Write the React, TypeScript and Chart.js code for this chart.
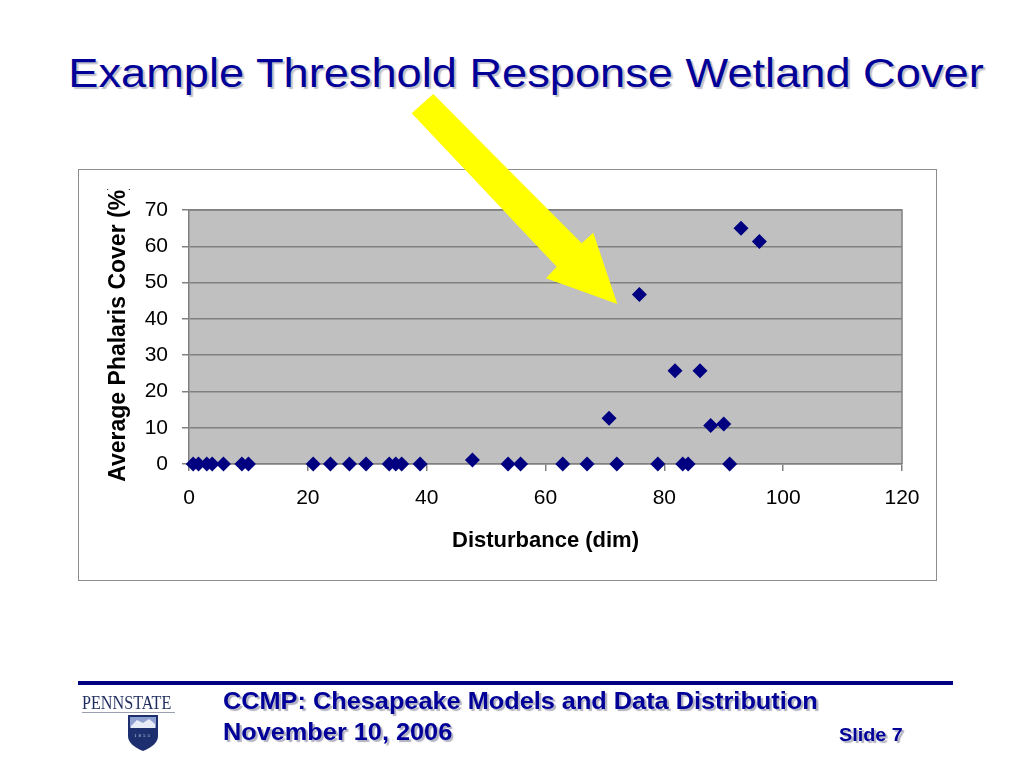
import React, { useEffect, useRef } from "react";
import { Chart, registerables } from "chart.js";

Chart.register(...registerables);

// ---- data ----
const disturbance = [
  0.7, 1.6, 3.0, 3.9, 5.8, 8.9, 10.0, 20.9, 23.8, 27.0, 29.8, 33.7, 34.8, 35.8,
  38.9, 47.7, 53.7, 55.8, 62.9, 67.0, 70.7, 72.0, 75.8, 78.9, 81.8, 83.1, 84.0,
  86.0, 87.8, 90.0, 91.0, 92.9, 96.0,
];
const phalarisCover = [
  0, 0, 0, 0, 0, 0, 0, 0, 0, 0, 0, 0, 0, 0,
  0, 1.1, 0, 0, 0, 0, 12.6, 0, 46.7, 0, 25.7, 0, 0,
  25.7, 10.6, 11.0, 0, 65.0, 61.3,
];
const xTicks = [0, 20, 40, 60, 80, 100, 120];
const yTicks = [0, 10, 20, 30, 40, 50, 60, 70];

const slideTitle = "Example Threshold Response Wetland Cover";
const xTitle = "Disturbance (dim)";
const yTitle = "Average Phalaris Cover (%)";
const footerLine1 = "CCMP: Chesapeake Models and Data Distribution";
const footerLine2 = "November 10, 2006";
const slideLabel = "Slide 7";
const logoText = "PENNSTATE";

const SANS = "'Liberation Sans', Arial, Helvetica, sans-serif";
const SERIF = "'Liberation Serif', 'Times New Roman', serif";

const plotFrame = {
  id: "plotFrame",
  beforeDraw(chart: any) {
    const { ctx, chartArea } = chart;
    const { left, top, right, bottom } = chartArea;
    ctx.save();
    ctx.fillStyle = "#c0c0c0";
    ctx.fillRect(left, top, right - left, bottom - top);
    ctx.restore();
  },
  beforeDatasetsDraw(chart: any) {
    const { ctx, chartArea } = chart;
    const { left, top, right, bottom } = chartArea;
    ctx.save();
    ctx.strokeStyle = "#808080";
    ctx.lineWidth = 1.5;
    ctx.beginPath();
    ctx.moveTo(left, top);
    ctx.lineTo(right, top);
    ctx.lineTo(right, bottom);
    ctx.stroke();
    ctx.restore();
  },
  afterDraw(chart: any) {
    // rotated y-axis title, clipped at the top like the original
    const { ctx, chartArea, width, height } = chart;
    const cy = (chartArea.top + chartArea.bottom) / 2 - 5;
    ctx.save();
    ctx.beginPath();
    ctx.rect(0, 19, width, height - 19);
    ctx.clip();
    ctx.translate(46, cy);
    ctx.rotate(-Math.PI / 2);
    ctx.font = `bold 23px ${SANS}`;
    ctx.fillStyle = "#000000";
    ctx.textAlign = "center";
    ctx.textBaseline = "alphabetic";
    ctx.fillText(yTitle, 0, 0);
    ctx.restore();
  },
};

function ScatterChart() {
  const ref = useRef<HTMLCanvasElement | null>(null);
  useEffect(() => {
    if (!ref.current) return;
    const points = disturbance.map((x, i) => ({ x, y: phalarisCover[i] }));
    const chart = new Chart(ref.current, {
      type: "scatter",
      data: {
        datasets: [
          {
            label: "Phalaris",
            data: points,
            pointStyle: "rectRot",
            pointRadius: 7.5,
            pointHoverRadius: 7.5,
            backgroundColor: "#000080",
            borderColor: "#000080",
            borderWidth: 0,
            clip: false as any,
          },
        ],
      },
      options: {
        animation: false,
        responsive: false,
        events: [],
        layout: { padding: { left: 20, right: 34, top: 40, bottom: 21.8 } },
        plugins: {
          legend: { display: false },
          tooltip: { enabled: false },
        },
        scales: {
          x: {
            type: "linear",
            min: 0,
            max: 120,
            afterBuildTicks: (s: any) => {
              s.ticks = xTicks.map((v) => ({ value: v }));
            },
            afterFit: (s: any) => {
              s.height = 94.2;
            },
            ticks: {
              color: "#000000",
              font: { family: SANS, size: 21 },
              padding: 15,
              maxRotation: 0,
            },
            grid: {
              drawOnChartArea: false,
              drawTicks: true,
              tickLength: 7,
              color: "#808080",
              lineWidth: 1.5,
            },
            border: { color: "#808080", width: 1.5 },
            title: {
              display: true,
              text: xTitle,
              color: "#000000",
              font: { family: SANS, size: 22, weight: "bold" },
              padding: { top: 4, bottom: 4 },
            },
          },
          y: {
            type: "linear",
            min: 0,
            max: 70,
            afterBuildTicks: (s: any) => {
              s.ticks = yTicks.map((v) => ({ value: v }));
            },
            afterFit: (s: any) => {
              s.width = 90;
            },
            ticks: {
              color: "#000000",
              font: { family: SANS, size: 21 },
              padding: 14,
            },
            grid: {
              color: "#808080",
              lineWidth: 1.5,
              drawTicks: true,
              tickLength: 7,
            },
            border: { color: "#808080", width: 1.5 },
          },
        },
      },
      plugins: [plotFrame],
    });
    return () => chart.destroy();
  }, []);
  return (
    <canvas
      ref={ref}
      width={857}
      height={410}
      style={{ position: "absolute", left: 79, top: 170, width: 857, height: 410 }}
    />
  );
}

export default function App() {
  return (
    <div
      style={{
        position: "absolute",
        left: 0,
        top: 0,
        width: 1024,
        height: 768,
        background: "#ffffff",
        overflow: "hidden",
        fontFamily: SANS,
      }}
    >
      {/* Slide title */}
      <div
        style={{
          position: "absolute",
          left: 0,
          top: 53,
          width: 1052,
          textAlign: "center",
          fontSize: 40,
          lineHeight: "40px",
          color: "#000099",
          whiteSpace: "nowrap",
          transform: "scaleX(1.13)",
          transformOrigin: "526px 0",
          textShadow: "2px 2px 1px #c0c0cc",
        }}
      >
        {slideTitle}
      </div>

      {/* Chart box */}
      <div
        style={{
          position: "absolute",
          left: 78,
          top: 169,
          width: 859,
          height: 412,
          boxSizing: "border-box",
          border: "1px solid #8c8c8c",
        }}
      />
      <ScatterChart />

      {/* Yellow arrow */}
      <svg
        width={1024}
        height={768}
        style={{ position: "absolute", left: 0, top: 0, pointerEvents: "none" }}
      >
        <polygon
          points="411.7,113.3 433.3,94 581.7,243.3 593.3,232.7 617.3,304 546,278.3 556.7,266.7"
          fill="#ffff00"
        />
      </svg>

      {/* Footer rule */}
      <div
        style={{
          position: "absolute",
          left: 78,
          top: 681,
          width: 875,
          height: 4,
          background: "#000080",
        }}
      />

      {/* Penn State logo */}
      <div
        style={{
          position: "absolute",
          left: 82,
          top: 693,
          fontFamily: SERIF,
          fontSize: 19,
          lineHeight: "19px",
          color: "#1e2c5e",
          whiteSpace: "nowrap",
          transform: "scaleX(0.85)",
          transformOrigin: "0 0",
        }}
      >
        {logoText}
      </div>
      <div
        style={{
          position: "absolute",
          left: 82,
          top: 712,
          width: 93,
          height: 1,
          background: "#9aa0b0",
        }}
      />
      <svg
        width={34}
        height={38}
        style={{ position: "absolute", left: 126, top: 714 }}
      >
        <path d="M2 1 H32 V22 Q32 31 17 37 Q2 31 2 22 Z" fill="#1d2f6e" />
        <rect x={4} y={3} width={26} height={11} fill="#8ea0d0" />
        <path d="M5 12 L11 6 L17 9 L23 5 L29 10 L29 14 L5 14 Z" fill="#e8ecf6" />
        <text
          x={17}
          y={23}
          fontSize={5}
          fill="#c8d0e8"
          textAnchor="middle"
          letterSpacing={2}
          fontFamily={SERIF}
        >
          1855
        </text>
      </svg>

      {/* Footer text */}
      <div
        style={{
          position: "absolute",
          left: 223,
          top: 690,
          fontSize: 23,
          lineHeight: "23px",
          fontWeight: "bold",
          color: "#000099",
          whiteSpace: "nowrap",
          transform: "scaleX(1.1)",
          transformOrigin: "0 0",
          textShadow: "2px 2px 1px #b0b0c0",
        }}
      >
        {footerLine1}
      </div>
      <div
        style={{
          position: "absolute",
          left: 223,
          top: 721,
          fontSize: 23,
          lineHeight: "23px",
          fontWeight: "bold",
          color: "#000099",
          whiteSpace: "nowrap",
          transform: "scaleX(1.1)",
          transformOrigin: "0 0",
          textShadow: "2px 2px 1px #b0b0c0",
        }}
      >
        {footerLine2}
      </div>
      <div
        style={{
          position: "absolute",
          left: 839,
          top: 726,
          fontSize: 18,
          lineHeight: "18px",
          fontWeight: "bold",
          color: "#000099",
          whiteSpace: "nowrap",
          transform: "scaleX(1.1)",
          transformOrigin: "0 0",
          textShadow: "2px 2px 1px #b0b0c0",
        }}
      >
        {slideLabel}
      </div>
    </div>
  );
}
